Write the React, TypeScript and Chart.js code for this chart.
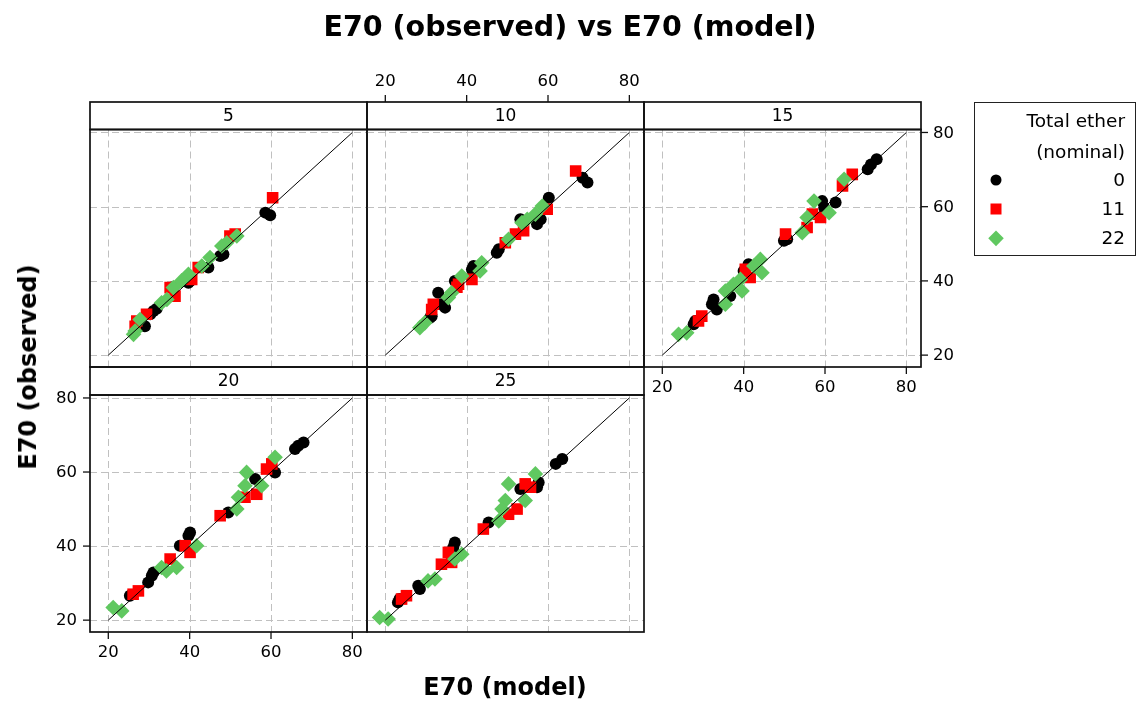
import React, { useEffect, useRef } from "react";
import { Chart, registerables } from "chart.js";
Chart.register(...registerables);

// ---------- data ----------
const PANEL_LABELS = ["5", "10", "15", "20", "25"];
const GROUP_LABELS = ["0", "11", "22"];
const AXIS_TICKS = [20, 40, 60, 80];
const DIAG_X = [20, 80];
const DIAG_Y = [20, 80];

const p5_e0_model = [58.6, 59.8, 48.3, 47.5, 44.6, 40.1, 39.7, 35.6, 31.9, 31.1, 30.3, 29.0];
const p5_e0_obs = [58.4, 57.7, 47.2, 46.7, 43.6, 40.0, 39.5, 38.2, 32.5, 31.9, 31.0, 27.8];
const p5_e11_model = [60.4, 51.2, 49.9, 42.1, 40.5, 36.4, 35.2, 29.4, 27.0, 26.6];
const p5_e11_obs = [62.4, 52.6, 52.1, 43.6, 40.4, 35.9, 38.2, 31.0, 29.2, 27.8];
const p5_e22_model = [51.6, 49.1, 47.9, 45.0, 43.0, 39.7, 38.0, 36.0, 34.4, 33.1, 27.8, 26.6, 26.2];
const p5_e22_obs = [52.1, 50.3, 49.4, 46.3, 44.0, 41.8, 40.0, 38.2, 35.0, 34.1, 29.6, 26.5, 25.6];

const p10_e0_model = [68.5, 69.7, 60.2, 57.3, 58.2, 53.2, 47.9, 47.4, 41.7, 41.3, 37.1, 33.0, 34.7, 33.8, 31.4, 31.0];
const p10_e0_obs = [67.8, 66.5, 62.4, 55.3, 56.6, 56.6, 48.5, 47.6, 44.0, 43.1, 40.0, 36.8, 32.8, 33.7, 30.5, 30.1];
const p10_e11_model = [66.8, 59.8, 54.0, 52.0, 49.5, 41.3, 38.0, 37.6, 31.8, 31.4];
const p10_e11_obs = [69.6, 59.3, 53.5, 52.6, 50.3, 40.4, 39.1, 38.3, 33.7, 32.3];
const p10_e22_model = [58.6, 56.9, 53.6, 54.9, 50.3, 43.7, 43.3, 38.8, 36.3, 35.5, 29.7, 28.5];
const p10_e22_obs = [60.2, 58.0, 55.7, 56.6, 51.2, 44.9, 42.7, 41.3, 36.8, 35.5, 28.7, 27.4];

const p15_e0_model = [72.7, 71.3, 70.5, 62.6, 59.3, 59.8, 50.7, 49.9, 41.2, 40.0, 36.7, 32.6, 32.2, 33.4, 28.1, 27.7];
const p15_e0_obs = [72.8, 71.4, 70.1, 61.1, 61.5, 59.7, 51.2, 50.8, 44.5, 42.7, 35.9, 35.0, 33.7, 32.3, 29.2, 28.3];
const p15_e11_model = [66.7, 64.3, 58.9, 56.9, 55.6, 50.3, 40.4, 41.6, 29.7, 28.9];
const p15_e11_obs = [68.7, 65.6, 57.1, 58.0, 54.4, 52.6, 43.1, 40.9, 30.5, 29.2];
const p15_e22_model = [64.7, 57.3, 61.0, 55.6, 54.4, 44.1, 44.5, 42.5, 39.2, 37.5, 39.6, 35.5, 35.5, 26.0, 24.0];
const p15_e22_obs = [67.4, 61.5, 58.4, 57.1, 53.0, 45.8, 42.2, 44.0, 40.4, 39.1, 37.3, 37.3, 33.7, 26.0, 25.6];

const p20_e0_model = [68.0, 66.7, 65.9, 61.0, 56.1, 49.5, 40.1, 39.7, 37.6, 30.7, 31.1, 29.8, 25.3];
const p20_e0_obs = [68.0, 67.1, 66.2, 59.9, 58.1, 49.1, 43.7, 42.8, 40.1, 32.0, 32.9, 30.2, 26.6];
const p20_e11_model = [58.9, 60.2, 56.5, 53.6, 47.5, 38.9, 40.1, 35.2, 27.4, 26.1];
const p20_e11_obs = [60.8, 62.2, 54.0, 53.2, 48.2, 40.1, 38.3, 36.5, 27.9, 27.0];
const p20_e22_model = [61.0, 54.0, 53.6, 57.7, 52.0, 51.6, 41.7, 36.8, 33.1, 34.3, 21.2, 23.3];
const p20_e22_obs = [64.0, 59.9, 56.3, 56.3, 53.2, 50.0, 40.1, 34.2, 34.2, 33.3, 23.4, 22.5];

const p25_e0_model = [63.5, 61.9, 57.3, 57.7, 53.2, 45.4, 37.1, 36.7, 28.1, 28.5, 23.1, 23.5];
const p25_e0_obs = [63.5, 62.2, 55.9, 57.2, 55.4, 46.4, 41.0, 39.6, 29.3, 28.4, 24.8, 25.7];
const p25_e11_model = [54.4, 55.7, 52.4, 50.3, 44.1, 35.5, 36.3, 33.8, 25.2, 24.0];
const p25_e11_obs = [56.8, 55.9, 50.0, 48.6, 44.6, 38.3, 35.6, 35.1, 26.6, 25.7];
const p25_e22_model = [56.9, 50.3, 54.4, 49.5, 48.7, 47.9, 38.8, 37.1, 32.2, 30.5, 18.6, 20.7];
const p25_e22_obs = [59.5, 56.8, 52.3, 52.3, 50.0, 46.8, 37.8, 36.5, 31.1, 30.6, 20.7, 20.3];

const PANEL_DATA = [
  [[p5_e0_model, p5_e0_obs], [p5_e11_model, p5_e11_obs], [p5_e22_model, p5_e22_obs]],
  [[p10_e0_model, p10_e0_obs], [p10_e11_model, p10_e11_obs], [p10_e22_model, p10_e22_obs]],
  [[p15_e0_model, p15_e0_obs], [p15_e11_model, p15_e11_obs], [p15_e22_model, p15_e22_obs]],
  [[p20_e0_model, p20_e0_obs], [p20_e11_model, p20_e11_obs], [p20_e22_model, p20_e22_obs]],
  [[p25_e0_model, p25_e0_obs], [p25_e11_model, p25_e11_obs], [p25_e22_model, p25_e22_obs]],
];

// ---------- styling / layout ----------
const W = 1137;
const H = 701;
const X_MIN = 15.5, X_MAX = 83.6, Y_MIN = 16.8, Y_MAX = 80.8;
const FONT = '"DejaVu Sans", Verdana, sans-serif';
const TEXT = "#000";
const GROUP_COLORS = ["#000000", "#ff0000", "#60c860"];
const GROUP_STYLES = ["circle", "rect", "rectRot"];
const GROUP_RADII = [6, 8.2, 7.8];

const COL_EDGES = [90, 367, 644, 921];
const ROW_STRIP_TOP = [102, 367];
const ROW_PLOT_TOP = [129.5, 395];
const ROW_PLOT_BOTTOM = [367, 632];

const PANEL_POS = [
  { col: 0, row: 0, axes: {} },
  { col: 1, row: 0, axes: { top: true } },
  { col: 2, row: 0, axes: { right: true, bottom: true } },
  { col: 0, row: 1, axes: { left: true, bottom: true } },
  { col: 1, row: 1, axes: {} },
];

const zip = (xs: number[], ys: number[]) => xs.map((x, i) => ({ x, y: ys[i] }));

const panelPlugin = {
  id: "panelDeco",
  beforeDatasetsDraw(chart: any) {
    const { ctx, chartArea: a, scales } = chart;
    const xs = scales.x, ys = scales.y;
    ctx.save();
    ctx.strokeStyle = "#c0c0c0";
    ctx.lineWidth = 1;
    ctx.setLineDash([7, 4]);
    AXIS_TICKS.forEach((v) => {
      const px = Math.round(xs.getPixelForValue(v)) + 0.5;
      ctx.beginPath(); ctx.moveTo(px, a.top); ctx.lineTo(px, a.bottom); ctx.stroke();
      const py = Math.round(ys.getPixelForValue(v)) + 0.5;
      ctx.beginPath(); ctx.moveTo(a.left, py); ctx.lineTo(a.right, py); ctx.stroke();
    });
    ctx.restore();
  },
  afterDraw(chart: any, _a: any, opts: any) {
    const { ctx, chartArea: a, scales } = chart;
    const xs = scales.x, ys = scales.y;
    const stripTop = opts.stripTop;
    ctx.save();
    ctx.setLineDash([]);
    ctx.strokeStyle = "#111";
    ctx.lineWidth = 1.7;
    ctx.strokeRect(a.left, a.top, a.right - a.left, a.bottom - a.top);
    ctx.strokeRect(a.left, stripTop, a.right - a.left, a.top - stripTop);
    ctx.fillStyle = TEXT;
    ctx.font = `17px ${FONT}`;
    ctx.textAlign = "center";
    ctx.textBaseline = "middle";
    ctx.fillText(opts.label, (a.left + a.right) / 2, (stripTop + a.top) / 2 + 1);
    ctx.lineWidth = 1.3;
    ctx.font = `16.5px ${FONT}`;
    const ax = opts.axes || {};
    AXIS_TICKS.forEach((v) => {
      const px = xs.getPixelForValue(v);
      const py = ys.getPixelForValue(v);
      if (ax.top) {
        ctx.beginPath(); ctx.moveTo(px, stripTop); ctx.lineTo(px, stripTop - 7); ctx.stroke();
        ctx.textAlign = "center"; ctx.textBaseline = "middle";
        ctx.fillText(String(v), px, stripTop - 20);
      }
      if (ax.bottom) {
        ctx.beginPath(); ctx.moveTo(px, a.bottom); ctx.lineTo(px, a.bottom + 7); ctx.stroke();
        ctx.textAlign = "center"; ctx.textBaseline = "middle";
        ctx.fillText(String(v), px, a.bottom + 21);
      }
      if (ax.left) {
        ctx.beginPath(); ctx.moveTo(a.left, py); ctx.lineTo(a.left - 7, py); ctx.stroke();
        ctx.textAlign = "right"; ctx.textBaseline = "middle";
        ctx.fillText(String(v), a.left - 13, py + 1);
      }
      if (ax.right) {
        ctx.beginPath(); ctx.moveTo(a.right, py); ctx.lineTo(a.right + 7, py); ctx.stroke();
        ctx.textAlign = "left"; ctx.textBaseline = "middle";
        ctx.fillText(String(v), a.right + 12, py + 1);
      }
    });
    ctx.restore();
  },
};

function Panel({ index }: { index: number }) {
  const ref = useRef<HTMLCanvasElement>(null);
  useEffect(() => {
    const pos = PANEL_POS[index];
    const left = COL_EDGES[pos.col];
    const right = COL_EDGES[pos.col + 1];
    const top = ROW_PLOT_TOP[pos.row];
    const bottom = ROW_PLOT_BOTTOM[pos.row];
    const groups = PANEL_DATA[index];
    const datasets: any[] = [
      {
        label: "diag",
        data: zip(DIAG_X, DIAG_Y),
        showLine: true,
        borderColor: "#000",
        borderWidth: 1,
        pointRadius: 0,
        fill: false,
      },
    ];
    [2, 1, 0].forEach((g) => {
      datasets.push({
        label: GROUP_LABELS[g],
        data: zip(groups[g][0], groups[g][1]),
        pointStyle: GROUP_STYLES[g],
        pointRadius: GROUP_RADII[g],
        backgroundColor: GROUP_COLORS[g],
        borderColor: GROUP_COLORS[g],
        borderWidth: 0,
        showLine: false,
      });
    });
    const chart = new Chart(ref.current!, {
      type: "scatter",
      data: { datasets },
      options: {
        animation: false,
        responsive: false,
        devicePixelRatio: 1,
        events: [],
        layout: { padding: { left, top, right: W - right, bottom: H - bottom } },
        scales: {
          x: { type: "linear", min: X_MIN, max: X_MAX, display: false },
          y: { type: "linear", min: Y_MIN, max: Y_MAX, display: false },
        },
        plugins: {
          legend: { display: false },
          tooltip: { enabled: false },
          panelDeco: {
            label: PANEL_LABELS[index],
            stripTop: ROW_STRIP_TOP[pos.row],
            axes: pos.axes,
          },
        } as any,
      },
      plugins: [panelPlugin],
    });
    return () => chart.destroy();
  }, [index]);
  return (
    <canvas
      ref={ref}
      width={W}
      height={H}
      style={{ position: "absolute", left: 0, top: 0, width: W, height: H }}
    />
  );
}

const centered = (x: number, y: number, extra: any = {}) => ({
  position: "absolute" as const,
  left: x,
  top: y,
  transform: "translate(-50%, -50%)",
  whiteSpace: "nowrap" as const,
  lineHeight: 1,
  ...extra,
});

export default function App() {
  return (
    <div
      style={{
        position: "fixed",
        left: 0,
        top: 0,
        width: W,
        height: H,
        background: "#fff",
        fontFamily: FONT,
        color: TEXT,
        overflow: "hidden",
      }}
    >
      {PANEL_LABELS.map((_, i) => (
        <Panel key={i} index={i} />
      ))}
      <div style={centered(570, 27, { fontSize: 28.5, fontWeight: "bold" })}>
        E70 (observed) vs E70 (model)
      </div>
      <div style={centered(505, 687, { fontSize: 24, fontWeight: "bold" })}>E70 (model)</div>
      <div style={centered(28, 367, { fontSize: 24, fontWeight: "bold", transform: "translate(-50%, -50%) rotate(-90deg)" })}>
        E70 (observed)
      </div>
      <div
        style={{
          position: "absolute",
          left: 974,
          top: 102,
          width: 162,
          height: 154,
          border: "1.5px solid #222",
          boxSizing: "border-box",
        }}
      />
      {[
        ["Total ether", 121],
        ["(nominal)", 152],
        [GROUP_LABELS[0], 180],
        [GROUP_LABELS[1], 209],
        [GROUP_LABELS[2], 238],
      ].map(([t, y]) => (
        <div
          key={String(t)}
          style={{
            position: "absolute",
            right: W - 1125,
            top: (y as number) - 11,
            fontSize: 18.5,
            lineHeight: "22px",
            whiteSpace: "nowrap",
          }}
        >
          {t}
        </div>
      ))}
      <div style={centered(996, 180, { width: 11, height: 11, borderRadius: "50%", background: GROUP_COLORS[0] })} />
      <div style={centered(996, 209, { width: 11, height: 11, background: GROUP_COLORS[1] })} />
      <div
        style={centered(996, 238, {
          width: 10.5,
          height: 10.5,
          background: GROUP_COLORS[2],
          transform: "translate(-50%, -50%) rotate(45deg)",
        })}
      />
    </div>
  );
}
